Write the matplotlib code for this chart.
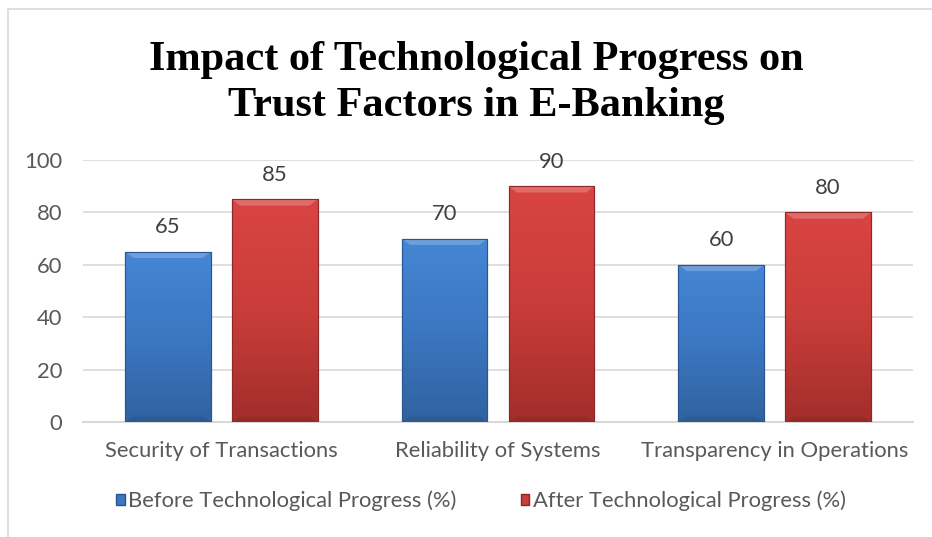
import numpy as np
import matplotlib
matplotlib.use("Agg")
import matplotlib.pyplot as plt
from matplotlib.colors import LinearSegmentedColormap
from matplotlib.patches import Rectangle

categories = ["Security of Transactions", "Reliability of Systems", "Transparency in Operations"]
before = [65, 70, 60]
after = [85, 90, 80]
series_names = ["Before Technological Progress (%)", "After Technological Progress (%)"]
title = "Impact of Technological Progress on\nTrust Factors in E-Banking"

W, H = 932, 537
fig = plt.figure(figsize=(W / 100, H / 100), dpi=100)
fig.patch.set_facecolor("white")

# chart frame (cropped on right/bottom)
fig.patches.append(Rectangle((8 / W, -0.1), 1.2, 1 - 9 / H + 0.1, transform=fig.transFigure,
                             fill=False, edgecolor="#d9d9d9", linewidth=1.2))

ax = fig.add_axes([83 / W, 1 - 422 / H, (913 - 83) / W, (422 - 160) / H])

gray = "#595959"
tick_font = "Lato"
fs = 15.8

x = np.arange(len(categories))
bw = 0.31
off = 0.193
blue_cmap = LinearSegmentedColormap.from_list("b", ["#4586d4", "#3c77c2", "#30629f"])
red_cmap = LinearSegmentedColormap.from_list("r", ["#d94442", "#c93d3a", "#a22e2b"])
blue_bars = ax.bar(x - off, before, bw, color="#3b76c0", edgecolor="#2a5590", linewidth=0.8, zorder=3)
red_bars = ax.bar(x + off, after, bw, color="#c73e3a", edgecolor="#8e2826", linewidth=0.8, zorder=3)

grad = np.linspace(0, 1, 256).reshape(-1, 1)
for bars, cmap in [(blue_bars, blue_cmap), (red_bars, red_cmap)]:
    for b in bars:
        x0, y0 = b.get_x(), b.get_y()
        w, h = b.get_width(), b.get_height()
        im = ax.imshow(grad, cmap=cmap, aspect="auto", extent=(x0, x0 + w, y0, y0 + h),
                       origin="upper", zorder=3.5)
        im.set_clip_path(b)
        # light top bevel, dark bottom bevel
        ax.fill([x0, x0 + w, x0 + w - 0.03, x0 + 0.03], [y0 + h, y0 + h, y0 + h - 2.4, y0 + h - 2.4],
                color="white", alpha=0.22, zorder=3.6, linewidth=0)
        ax.fill([x0, x0 + w, x0 + w - 0.03, x0 + 0.03], [y0, y0, y0 + 2.0, y0 + 2.0],
                color="black", alpha=0.08, zorder=3.6, linewidth=0)
        ax.add_patch(Rectangle((x0, y0), w, h, fill=False, edgecolor=b.get_edgecolor(),
                               linewidth=0.8, zorder=3.7))
        ax.text(x0 + w / 2, h + 5.5, f"{h:g}", ha="center", va="bottom", fontsize=fs,
                color="#404040", family=tick_font)

ax.set_xlim(-0.5, 2.5)
ax.set_ylim(0, 100)
ax.set_yticks(range(0, 101, 20))
ax.yaxis.grid(True, color="#d9d9d9", linewidth=1.2, zorder=0)
ax.set_axisbelow(True)
for s in ["top", "right", "left"]:
    ax.spines[s].set_visible(False)
ax.spines["bottom"].set_color("#d9d9d9")
ax.spines["bottom"].set_linewidth(1.5)
ax.tick_params(length=0, labelsize=fs, colors=gray)
ax.tick_params(axis="y", pad=15)
ax.tick_params(axis="x", pad=14)
ax.set_xticks(x)
ax.set_xticklabels(categories, family=tick_font)
for lab in ax.get_yticklabels():
    lab.set_family(tick_font)

fig.text(476 / W, 1 - 83 / H, title, ha="center", va="center", fontsize=30.5,
         fontweight="bold", family="Liberation Serif", linespacing=1.3)

# legend
handles = [Rectangle((0, 0), 1, 1, facecolor="#3b76c0", edgecolor="#2a5590"),
           Rectangle((0, 0), 1, 1, facecolor="#c73e3a", edgecolor="#8e2826")]
leg = fig.legend(handles, series_names, loc="center", bbox_to_anchor=(481 / W, 1 - 501 / H),
                 ncol=2, frameon=False, handlelength=0.4, handleheight=0.4, handletextpad=0.15,
                 columnspacing=2.9, prop={"family": tick_font, "size": fs})
for t in leg.get_texts():
    t.set_color(gray)

fig.savefig("out.png", dpi=100, facecolor="white")
